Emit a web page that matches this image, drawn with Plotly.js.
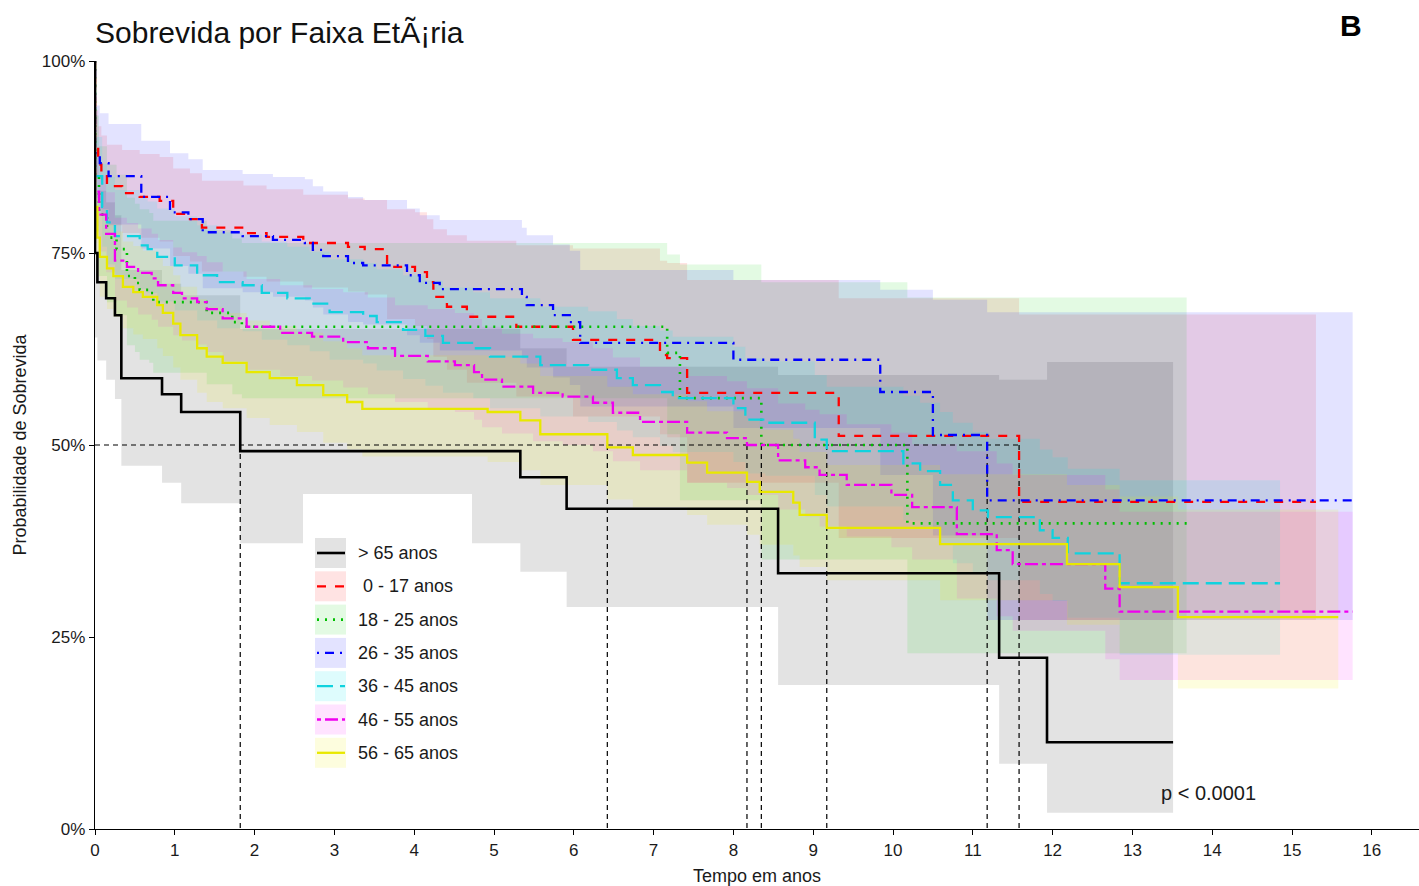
<!DOCTYPE html>
<html><head><meta charset="utf-8">
<script src="https://cdn.plot.ly/plotly-3.0.1.min.js"></script>
<style>html,body{margin:0;padding:0;background:#fff}#chart{width:1419px;height:886px}</style>
</head><body><div id="chart"></div>
<script>
// ---------- DATA ----------
const groupNames = ["> 65 anos", " 0 - 17 anos", "18 - 25 anos", "26 - 35 anos", "36 - 45 anos", "46 - 55 anos", "56 - 65 anos"];

// > 65 anos
const t_g65 = [0, 0, 0.03, 0.14, 0.25, 0.33, 0.84, 1.08, 1.82, 5.33, 5.91, 8.56, 11.33, 11.93, 13.51];
const s_g65 = [100, 75, 71.2, 69.1, 66.9, 58.7, 56.6, 54.3, 49.2, 45.8, 41.7, 33.3, 22.3, 11.3, 11.3];
const lo_g65 = [100, 64, 61, 58.5, 56, 47.3, 45.1, 42.4, 37.2, 33.5, 28.9, 18.75, 8.5, 2.1, 2.1];
const up_g65 = [100, 87.9, 83.1, 81.6, 79.9, 72.8, 71.0, 69.5, 65.1, 62.6, 60.2, 59.1, 58.5, 60.8, 60.8];

// 0 - 17 anos
const t_g0017 = [0, 0, 0.04, 0.08, 0.15, 0.34, 0.56, 0.81, 0.98, 1.19, 1.34, 1.86, 2.15, 2.61, 3.17, 3.38, 3.66, 4.01, 4.16, 4.24, 4.41, 4.66, 5.28, 5.99, 7.08, 7.17, 7.42, 9.32, 11.58, 15.3];
const s_g0017 = [100, 89, 86.5, 85, 83.7, 82.8, 82.3, 81.8, 80.1, 79.4, 78.3, 77.6, 77.1, 76.3, 75.8, 75.5, 73.2, 72.5, 71.2, 69.3, 68.0, 66.7, 65.4, 63.7, 61.7, 61.3, 56.8, 51.2, 42.6, 42.6];
const up_g0017 = [100, 93.6, 91.5, 90.3, 89.1, 88.4, 87.9, 87.5, 86.0, 85.4, 84.4, 83.8, 83.3, 82.6, 82.1, 81.9, 80.7, 80.3, 79.4, 78.1, 77.3, 76.6, 76.0, 75.6, 74.0, 73.7, 71.5, 69.1, 67.0, 67.0];
const lo_g0017 = [100, 84.7, 81.8, 80.0, 78.6, 77.6, 77.0, 76.5, 74.6, 73.9, 72.6, 71.9, 71.3, 70.5, 70.0, 69.6, 66.4, 65.5, 63.8, 61.5, 59.8, 58.1, 56.3, 53.7, 51.4, 51.0, 45.1, 37.9, 27.2, 27.2];

// 18 - 25 anos
const t_g1825 = [0, 0, 0.05, 0.15, 0.27, 0.40, 0.50, 0.56, 0.68, 0.73, 1.40, 1.72, 1.84, 7.17, 7.33, 8.35, 10.18, 13.68];
const s_g1825 = [100, 85, 80, 77, 75.5, 72, 71.1, 70.2, 69.8, 68.6, 67.2, 66.0, 65.4, 62.0, 56.1, 50.0, 39.8, 39.8];
const up_g1825 = [100, 92.9, 88.9, 86.5, 85.2, 82.2, 81.4, 80.7, 80.2, 79.2, 78.0, 76.9, 76.3, 74.8, 73.5, 71.2, 69.2, 69.2];
const lo_g1825 = [100, 77.8, 72.0, 68.6, 66.9, 63.0, 62.1, 61.1, 60.7, 59.4, 57.9, 56.6, 56.1, 51.4, 42.8, 35.1, 22.9, 22.9];

// 26 - 35 anos
const t_g2635 = [0, 0, 0.06, 0.17, 0.58, 0.94, 1.17, 1.35, 1.85, 2.23, 2.63, 2.73, 2.86, 3.17, 3.36, 3.91, 4.07, 4.32, 5.35, 5.41, 5.74, 5.95, 6.08, 8.0, 9.84, 10.5, 11.18, 15.76];
const s_g2635 = [100, 88, 86.7, 85.0, 82.3, 80.3, 79.4, 77.7, 77.2, 76.7, 76.3, 75.4, 74.6, 73.7, 73.4, 72.1, 71.1, 70.3, 69.3, 68.2, 66.9, 66.0, 63.3, 61.1, 56.9, 51.3, 42.8, 42.8];
const up_g2635 = [100, 94.2, 93.2, 91.8, 89.6, 88.0, 87.2, 85.8, 85.3, 84.9, 84.6, 83.7, 83.0, 82.3, 81.9, 80.8, 79.9, 79.3, 78.3, 77.3, 76.1, 75.3, 72.8, 71.5, 70.2, 68.9, 67.3, 67.3];
const lo_g2635 = [100, 82.2, 80.7, 78.7, 75.6, 73.3, 72.3, 70.4, 69.9, 69.3, 68.8, 67.9, 67.0, 66.0, 65.7, 64.3, 63.3, 62.3, 61.3, 60.1, 58.8, 57.8, 55.0, 52.2, 46.1, 38.2, 27.2, 27.2];

// 36 - 45 anos
const t_g3645 = [0, 0, 0.09, 0.15, 0.25, 0.56, 0.66, 0.78, 1.0, 1.28, 1.53, 1.85, 2.09, 2.41, 2.69, 2.94, 3.36, 3.53, 3.86, 4.14, 4.36, 4.74, 4.95, 5.58, 6.18, 6.54, 6.74, 7.08, 7.24, 8.0, 8.15, 8.40, 9.02, 9.17, 10.13, 10.34, 10.59, 10.75, 11.0, 11.19, 11.84, 12.0, 12.19, 12.84, 14.85];
const s_g3645 = [100, 85, 81, 79, 77.2, 76.0, 75.5, 74.5, 73.4, 72.1, 71.2, 70.8, 69.8, 69.1, 68.4, 67.3, 66.8, 66.0, 65.0, 64.2, 63.3, 62.6, 61.5, 60.4, 59.8, 58.7, 57.8, 56.9, 56.1, 54.8, 53.3, 52.9, 50.7, 49.2, 47.6, 46.6, 44.8, 42.8, 41.5, 40.6, 38.9, 37.9, 35.9, 32.0, 32.0];
const up_g3645 = [100, 90.1, 86.6, 84.9, 83.2, 82.2, 81.7, 80.8, 79.8, 78.6, 77.7, 77.4, 76.5, 75.8, 75.2, 74.2, 73.7, 72.9, 72.1, 71.4, 70.5, 69.9, 69.1, 68.0, 67.4, 66.4, 65.5, 64.9, 64.1, 62.8, 61.3, 60.9, 59.1, 57.6, 56.4, 55.5, 54.3, 52.9, 51.7, 50.8, 49.4, 48.4, 46.9, 45.4, 45.4];
const lo_g3645 = [100, 80.2, 75.8, 73.5, 71.6, 70.3, 69.8, 68.7, 67.5, 66.2, 65.2, 64.8, 63.7, 63.0, 62.2, 61.1, 60.6, 59.7, 58.6, 57.7, 56.8, 56.1, 54.8, 53.7, 53.0, 51.9, 51.0, 49.9, 49.1, 47.8, 46.3, 46.0, 43.5, 42.0, 40.2, 39.1, 37.0, 34.6, 33.3, 32.4, 30.6, 29.7, 27.5, 22.7, 22.7];

// 46 - 55 anos
const t_g4655 = [0, 0, 0.05, 0.14, 0.25, 0.40, 0.54, 0.71, 0.79, 0.98, 1.09, 1.28, 1.40, 1.60, 1.90, 2.32, 2.72, 3.11, 3.42, 3.76, 4.17, 4.51, 4.75, 4.85, 5.10, 5.49, 5.86, 6.24, 6.49, 6.83, 7.42, 7.92, 8.17, 8.56, 8.90, 9.08, 9.42, 9.98, 10.24, 10.80, 11.30, 11.50, 12.66, 12.84, 15.76];
const s_g4655 = [100, 83, 80, 77.5, 74.0, 73.2, 72.4, 71.7, 70.8, 69.8, 69.1, 68.6, 67.7, 66.5, 65.4, 64.6, 64.1, 63.4, 62.6, 61.6, 60.9, 60.4, 59.5, 58.5, 57.6, 56.8, 56.3, 55.5, 54.2, 53.0, 51.6, 50.9, 50.0, 48.0, 47.1, 46.1, 44.8, 43.5, 41.9, 38.4, 36.3, 34.5, 31.3, 28.3, 28.3];
const up_g4655 = [100, 87.8, 85.1, 82.9, 79.6, 78.9, 78.2, 77.5, 76.7, 75.7, 75.1, 74.6, 73.8, 72.6, 71.6, 70.8, 70.3, 69.9, 69.2, 68.2, 67.7, 67.2, 66.4, 65.4, 64.5, 63.9, 63.4, 62.6, 61.4, 60.2, 59.0, 58.3, 57.4, 55.4, 54.6, 54.0, 52.7, 51.6, 50.1, 49.2, 47.6, 46.1, 44.2, 41.3, 41.3];
const lo_g4655 = [100, 78.5, 75.2, 72.5, 68.8, 67.9, 67.0, 66.3, 65.4, 64.3, 63.6, 63.1, 62.1, 60.9, 59.8, 59.0, 58.4, 57.5, 56.6, 55.6, 54.8, 54.3, 53.3, 52.3, 51.5, 50.5, 50.0, 49.2, 47.9, 46.7, 45.1, 44.4, 43.5, 41.6, 40.7, 39.4, 38.1, 36.7, 35.1, 30.0, 27.7, 25.8, 22.1, 19.4, 19.4];

// 56 - 65 anos
const t_g5665 = [0, 0, 0.03, 0.06, 0.15, 0.23, 0.35, 0.48, 0.60, 0.78, 0.85, 0.98, 1.07, 1.28, 1.40, 1.60, 1.90, 2.19, 2.53, 2.86, 3.16, 3.35, 4.92, 5.33, 5.58, 6.42, 6.74, 7.42, 7.67, 8.17, 8.33, 8.75, 8.83, 9.17, 10.59, 12.18, 12.84, 13.57, 15.58];
const s_g5665 = [100, 81, 77, 74.5, 73.0, 72.0, 70.6, 69.9, 69.3, 68.2, 67.2, 65.8, 64.3, 62.6, 61.5, 60.7, 59.5, 58.7, 57.8, 56.5, 55.6, 54.7, 54.3, 53.2, 51.4, 49.7, 48.7, 47.7, 46.4, 45.2, 43.9, 42.5, 40.9, 39.2, 37.1, 34.5, 31.5, 27.6, 27.6];
const up_g5665 = [100, 86.0, 82.4, 80.1, 78.7, 77.8, 76.5, 75.9, 75.3, 74.3, 73.3, 72.1, 70.6, 69.0, 68.0, 67.2, 66.2, 65.5, 64.6, 63.5, 62.6, 61.7, 61.5, 60.6, 59.0, 57.6, 56.6, 55.7, 54.4, 53.4, 52.0, 50.8, 49.1, 47.4, 46.2, 44.8, 43.3, 41.6, 41.6];
const lo_g5665 = [100, 76.3, 71.9, 69.3, 67.7, 66.7, 65.2, 64.4, 63.8, 62.6, 61.6, 60.1, 58.5, 56.8, 55.6, 54.8, 53.5, 52.6, 51.7, 50.3, 49.4, 48.5, 47.8, 46.7, 44.8, 42.9, 41.9, 40.9, 39.6, 38.3, 37.0, 35.6, 34.1, 32.4, 29.8, 26.6, 22.9, 18.3, 18.3];

// median survival times (dashed guide lines)
const medianTimes = [1.82, 6.42, 8.17, 8.35, 9.17, 11.18, 11.58];
const yTickVals = [0, 25, 50, 75, 100];
const yTickText = ["0%", "25%", "50%", "75%", "100%"];
const xTickVals = [0,1,2,3,4,5,6,7,8,9,10,11,12,13,14,15,16];
const pValueText = "p < 0.0001";

// ---------- STYLE ----------
const lineColors = ["#000000", "#FF0000", "#00C000", "#0000FF", "#10D2DE", "#F000F0", "#E8E800"];
const fillColors = ["rgba(0,0,0,0.11)", "rgba(255,0,0,0.11)", "rgba(0,205,0,0.11)", "rgba(0,0,255,0.11)", "rgba(0,229,238,0.13)", "rgba(255,0,255,0.11)", "rgba(240,240,0,0.13)"];
const dashes = ["solid", "9px,9px", "2px,6px", "2px,6px,9px,6px", "16px,7px", "4px,4px,13px,4px", "solid"];
const widths = [2.6, 2.3, 2.6, 2.3, 2.3, 2.3, 2.3];

const groups = [
  {t: t_g65, s: s_g65, lo: lo_g65, up: up_g65},
  {t: t_g0017, s: s_g0017, lo: lo_g0017, up: up_g0017},
  {t: t_g1825, s: s_g1825, lo: lo_g1825, up: up_g1825},
  {t: t_g2635, s: s_g2635, lo: lo_g2635, up: up_g2635},
  {t: t_g3645, s: s_g3645, lo: lo_g3645, up: up_g3645},
  {t: t_g4655, s: s_g4655, lo: lo_g4655, up: up_g4655},
  {t: t_g5665, s: s_g5665, lo: lo_g5665, up: up_g5665}
];

const traces = [];
// confidence bands
groups.forEach((g, i) => {
  traces.push({x: g.t, y: g.lo, type: 'scatter', mode: 'lines', line: {width: 0, shape: 'hv'}, hoverinfo: 'skip', showlegend: false});
  traces.push({x: g.t, y: g.up, type: 'scatter', mode: 'lines', fill: 'tonexty', fillcolor: fillColors[i], line: {width: 0, shape: 'hv'}, hoverinfo: 'skip', showlegend: false});
});
// median guide lines
const medMax = Math.max(...medianTimes);
traces.push({x: [0, medMax], y: [50, 50], type: 'scatter', mode: 'lines', line: {color: '#000', width: 1.2, dash: '5px,4px'}, hoverinfo: 'skip', showlegend: false});
traces.push({
  x: medianTimes.flatMap(m => [m, m, null]),
  y: medianTimes.flatMap(() => [50, 0, null]),
  type: 'scatter', mode: 'lines', line: {color: '#000', width: 1.2, dash: '5px,4px'}, hoverinfo: 'skip', showlegend: false
});
// survival curves
[1, 2, 3, 4, 5, 6, 0].forEach(i => {
  const g = groups[i];
  traces.push({x: g.t, y: g.s, type: 'scatter', mode: 'lines', name: groupNames[i],
    line: {color: lineColors[i], width: widths[i], dash: dashes[i], shape: 'hv'}, showlegend: false});
});

// ---------- LAYOUT ----------
const L = 95, T = 61, W = 1324, H = 768;
const px = x => (x - L) / W;
const py = y => (T + H - y) / H;
const FONT = "Liberation Sans, Arial, sans-serif";

const shapes = [];
const annotations = [];
// legend box
shapes.push({type: 'rect', xref: 'paper', yref: 'paper', x0: px(303), x1: px(472), y0: py(776), y1: py(494), fillcolor: '#ffffff', line: {width: 0}, layer: 'above'});
groupNames.forEach((name, i) => {
  const cy = 553 + i * 33.3;
  shapes.push({type: 'rect', xref: 'paper', yref: 'paper', x0: px(315), x1: px(346), y0: py(cy + 15), y1: py(cy - 15), fillcolor: fillColors[i], line: {width: 0}, layer: 'above'});
  shapes.push({type: 'line', xref: 'paper', yref: 'paper', x0: px(317), x1: px(345), y0: py(cy), y1: py(cy), line: {color: lineColors[i], width: widths[i], dash: dashes[i]}, layer: 'above'});
  annotations.push({xref: 'paper', yref: 'paper', x: px(356), y: py(cy), xanchor: 'left', yanchor: 'middle', text: name, showarrow: false, font: {family: FONT, size: 18, color: '#1a1a1a'}});
});
annotations.push({xref: 'x', yref: 'y', x: 13.95, y: 4.7, text: pValueText, showarrow: false, xanchor: 'center', yanchor: 'middle', font: {family: FONT, size: 20, color: '#1a1a1a'}});
annotations.push({xref: 'paper', yref: 'paper', x: px(1351), y: py(25), text: '<b>B</b>', showarrow: false, xanchor: 'center', yanchor: 'middle', font: {family: FONT, size: 30, color: '#000'}});

const layout = {
  width: 1419, height: 886,
  margin: {l: L, r: 1419 - L - W, t: T, b: 886 - T - H, pad: 0},
  paper_bgcolor: '#fff', plot_bgcolor: '#fff',
  font: {family: FONT, color: '#1a1a1a'},
  title: {text: 'Sobrevida por Faixa EtÃ¡ria', x: 95 / 1419, xanchor: 'left', y: 1 - 32 / 886, yanchor: 'middle', font: {family: FONT, size: 30, color: '#111'}},
  showlegend: false,
  xaxis: {
    range: [0, (1419 - L) / 79.8], tickvals: xTickVals, ticks: 'outside', ticklen: 5, tickwidth: 1, tickcolor: '#000',
    showline: true, linecolor: '#000', linewidth: 1.3, showgrid: false, zeroline: false,
    tickfont: {family: FONT, size: 17, color: '#1a1a1a'},
    title: {text: 'Tempo em anos', font: {family: FONT, size: 18, color: '#1a1a1a'}, standoff: 12}
  },
  yaxis: {
    range: [0, 100], tickvals: yTickVals, ticktext: yTickText, ticks: 'outside', ticklen: 5, tickwidth: 1, tickcolor: '#000',
    showline: true, linecolor: '#000', linewidth: 1.3, showgrid: false, zeroline: false,
    tickfont: {family: FONT, size: 17, color: '#1a1a1a'},
    title: {text: 'Probabilidade de Sobrevida', font: {family: FONT, size: 18, color: '#1a1a1a'}, standoff: 10}
  },
  shapes: shapes,
  annotations: annotations
};

Plotly.newPlot('chart', traces, layout, {displayModeBar: false, staticPlot: true});
</script>
</body></html>
